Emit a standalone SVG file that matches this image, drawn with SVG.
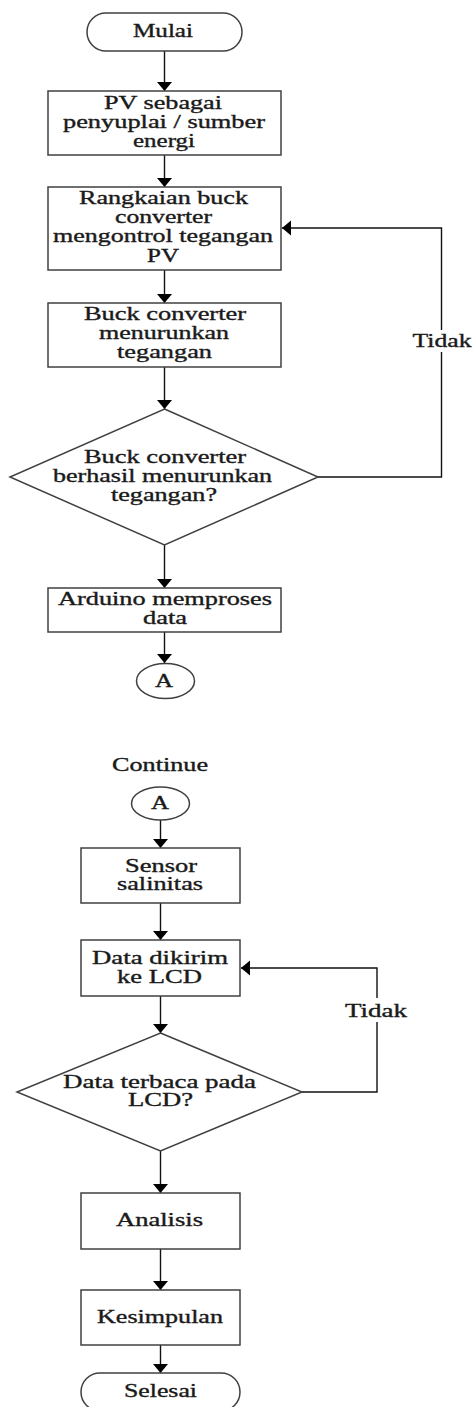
<svg xmlns="http://www.w3.org/2000/svg" width="473" height="1407" viewBox="0 0 473 1407">
<defs>
<marker id="arr" markerUnits="userSpaceOnUse" markerWidth="12" markerHeight="16" refX="9" refY="7.5" orient="auto">
<path d="M0,0 L9,7.5 L0,15 Z" fill="#000"/>
</marker>
</defs>
<style>
.shape{fill:#fff;stroke:#404040;stroke-width:1.5}
.conn{fill:none;stroke:#111;stroke-width:1.4}
text{font-family:"Liberation Serif","Times New Roman",serif;font-size:18px;fill:#1a1a1a;text-anchor:middle;stroke:#1a1a1a;stroke-width:0.35}
</style>
<rect width="473" height="1407" fill="#fff"/>
<g id="connectors">
<line class="conn" x1="164.5" y1="51" x2="164.5" y2="91" marker-end="url(#arr)"/>
<line class="conn" x1="164.5" y1="155" x2="164.5" y2="187" marker-end="url(#arr)"/>
<line class="conn" x1="164.5" y1="270" x2="164.5" y2="303" marker-end="url(#arr)"/>
<line class="conn" x1="164.5" y1="367" x2="164.5" y2="409" marker-end="url(#arr)"/>
<line class="conn" x1="164.5" y1="545" x2="164.5" y2="588" marker-end="url(#arr)"/>
<line class="conn" x1="164.5" y1="632" x2="164.5" y2="663" marker-end="url(#arr)"/>
<polyline class="conn" points="318,477 441.5,477 441.5,352"/>
<polyline class="conn" points="441.5,330 441.5,228 282,228" marker-end="url(#arr)"/>
<line class="conn" x1="160.5" y1="820" x2="160.5" y2="848" marker-end="url(#arr)"/>
<line class="conn" x1="160.5" y1="903" x2="160.5" y2="940" marker-end="url(#arr)"/>
<line class="conn" x1="160.5" y1="996" x2="160.5" y2="1033" marker-end="url(#arr)"/>
<polyline class="conn" points="302,1092 377,1092 377,1022"/>
<polyline class="conn" points="377,998 377,968 241,968" marker-end="url(#arr)"/>
<line class="conn" x1="160.5" y1="1151" x2="160.5" y2="1193" marker-end="url(#arr)"/>
<line class="conn" x1="160.5" y1="1249" x2="160.5" y2="1290" marker-end="url(#arr)"/>
<line class="conn" x1="160.5" y1="1345" x2="160.5" y2="1373" marker-end="url(#arr)"/>
<text x="442" y="347" textLength="59" lengthAdjust="spacingAndGlyphs">Tidak</text>
<text x="376" y="1017" textLength="62" lengthAdjust="spacingAndGlyphs">Tidak</text>
</g>
<g id="mulai">
<rect class="shape" x="87" y="13" width="155" height="38" rx="19"/>
<text x="163" y="37" textLength="60" lengthAdjust="spacingAndGlyphs">Mulai</text>
</g>
<g id="pv">
<rect class="shape" x="48" y="91" width="233" height="64"/>
<text x="163" y="109" textLength="118" lengthAdjust="spacingAndGlyphs">PV sebagai</text>
<text x="164" y="128" textLength="202" lengthAdjust="spacingAndGlyphs">penyuplai / sumber</text>
<text x="164" y="147" textLength="62" lengthAdjust="spacingAndGlyphs">energi</text>
</g>
<g id="rangkaian">
<rect class="shape" x="48" y="187" width="233" height="83"/>
<text x="163.5" y="204" textLength="169" lengthAdjust="spacingAndGlyphs">Rangkaian buck</text>
<text x="163.5" y="223" textLength="97" lengthAdjust="spacingAndGlyphs">converter</text>
<text x="163" y="242" textLength="220" lengthAdjust="spacingAndGlyphs">mengontrol tegangan</text>
<text x="163" y="262" textLength="32" lengthAdjust="spacingAndGlyphs">PV</text>
</g>
<g id="buck">
<rect class="shape" x="48" y="303" width="233" height="64"/>
<text x="165" y="320" textLength="162" lengthAdjust="spacingAndGlyphs">Buck converter</text>
<text x="164" y="339" textLength="130" lengthAdjust="spacingAndGlyphs">menurunkan</text>
<text x="164.5" y="358" textLength="95" lengthAdjust="spacingAndGlyphs">tegangan</text>
</g>
<g id="decision1">
<polygon class="shape" points="164.5,409 318,477 164.5,545 10,477"/>
<text x="165" y="463" textLength="162" lengthAdjust="spacingAndGlyphs">Buck converter</text>
<text x="162.5" y="482" textLength="219" lengthAdjust="spacingAndGlyphs">berhasil menurunkan</text>
<text x="164" y="501" textLength="106" lengthAdjust="spacingAndGlyphs">tegangan?</text>
</g>
<g id="arduino">
<rect class="shape" x="48" y="588" width="233" height="44"/>
<text x="165" y="605" textLength="214" lengthAdjust="spacingAndGlyphs">Arduino memproses</text>
<text x="165" y="624" textLength="44" lengthAdjust="spacingAndGlyphs">data</text>
</g>
<g id="connectorA1">
<ellipse class="shape" cx="165.5" cy="681" rx="29" ry="17.5"/>
<text x="164" y="687" textLength="18" lengthAdjust="spacingAndGlyphs">A</text>
</g>
<g id="continue">
<text x="160" y="771" textLength="96" lengthAdjust="spacingAndGlyphs">Continue</text>
</g>
<g id="connectorA2">
<ellipse class="shape" cx="160.5" cy="803.5" rx="29" ry="16.5"/>
<text x="160" y="809" textLength="18" lengthAdjust="spacingAndGlyphs">A</text>
</g>
<g id="sensor">
<rect class="shape" x="81" y="848" width="159" height="55"/>
<text x="161" y="872" textLength="72" lengthAdjust="spacingAndGlyphs">Sensor</text>
<text x="160" y="890" textLength="86" lengthAdjust="spacingAndGlyphs">salinitas</text>
</g>
<g id="datakirim">
<rect class="shape" x="81" y="940" width="159" height="56"/>
<text x="160" y="964" textLength="136" lengthAdjust="spacingAndGlyphs">Data dikirim</text>
<text x="159.5" y="983" textLength="85" lengthAdjust="spacingAndGlyphs">ke LCD</text>
</g>
<g id="decision2">
<polygon class="shape" points="160.5,1033 302,1092 160.5,1151 17,1092"/>
<text x="159.5" y="1088" textLength="193" lengthAdjust="spacingAndGlyphs">Data terbaca pada</text>
<text x="160.5" y="1106" textLength="65" lengthAdjust="spacingAndGlyphs">LCD?</text>
</g>
<g id="analisis">
<rect class="shape" x="81" y="1193" width="159" height="56"/>
<text x="159.5" y="1226" textLength="87" lengthAdjust="spacingAndGlyphs">Analisis</text>
</g>
<g id="kesimpulan">
<rect class="shape" x="81" y="1290" width="159" height="55"/>
<text x="160" y="1323" textLength="126" lengthAdjust="spacingAndGlyphs">Kesimpulan</text>
</g>
<g id="selesai">
<rect class="shape" x="81" y="1373" width="159" height="38" rx="19"/>
<text x="160.5" y="1397" textLength="73" lengthAdjust="spacingAndGlyphs">Selesai</text>
</g>
</svg>
